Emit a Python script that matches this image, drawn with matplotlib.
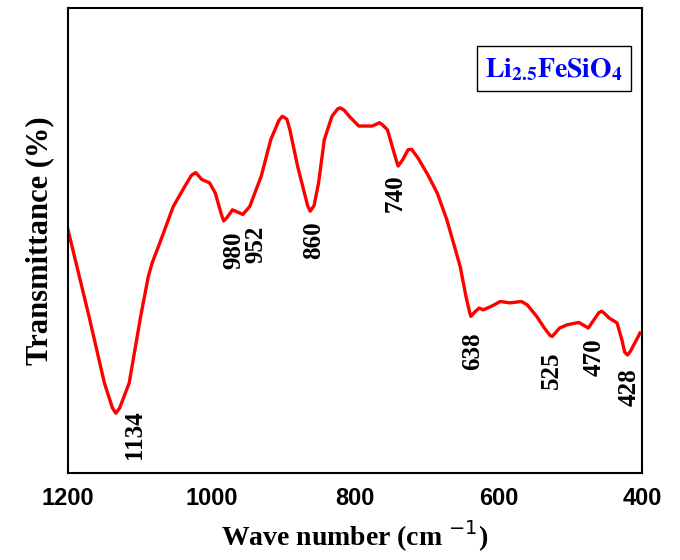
import matplotlib
matplotlib.use('Agg')
import matplotlib.pyplot as plt

# FTIR spectrum of Li2.5FeSiO4
wavenumber = [1200, 1170.7, 1149.3, 1138, 1133.3, 1128, 1114.7, 1098.7, 1088, 1082.7, 1072, 1053.3,
              1037.3, 1028, 1022, 1013.3, 1002.7, 994.7, 986, 983, 978, 970.7, 956.3, 946.7, 930.7,
              917.3, 906, 901.3, 895, 890.7, 880, 866, 862.4, 857, 850.7, 842.7, 832, 824, 820.3, 815, 808,
              794.7, 776, 766, 762.7, 754.7, 746.7, 741, 739.7, 733.3, 726, 721, 712, 698.7,
              685.3, 672, 664, 653.3, 645.3, 640, 638.4, 632, 626.7, 621.3, 610.7,
              597.3, 584, 568, 560, 546.7, 536, 528, 525, 514.7, 504, 488,
              474.7, 466.7, 460, 456, 452, 445.3, 434.7, 428, 424, 420, 416, 402.7]
transmittance = [52.3, 33.7, 19.4, 14.0, 12.9, 14.0, 19.4, 33.7, 42.3, 45.2, 49.5, 57.3,
                 61.6, 64.0, 64.6, 63.1, 62.4, 60.2, 55.5, 54.2, 55.0, 56.6, 55.6, 57.3, 63.8,
                 71.7, 75.8, 76.7, 76.1, 73.8, 66.0, 57.5, 56.3, 57.5, 62.4, 71.7, 76.7, 78.3, 78.5, 78.0, 76.7,
                 74.6, 74.6, 75.3, 75.0, 73.8, 69.5, 66.5, 66.0, 67.4, 69.5, 69.6, 67.7, 64.2,
                 60.2, 54.5, 50.2, 44.4, 38.0, 34.5, 33.7, 34.8, 35.5, 35.1, 35.8,
                 36.9, 36.6, 36.9, 36.2, 33.7, 31.2, 29.6, 29.4, 31.2, 31.9, 32.4,
                 31.2, 33.0, 34.5, 34.8, 34.3, 33.3, 32.3, 28.7, 26.0, 25.4, 26.2, 30.1]

peak_labels = ['1134', '980', '952', '860', '740', '638', '525', '470', '428']
peak_x = [1107, 968.5, 938, 858, 744, 636.3, 526.4, 466.7, 417.6]
peak_y = [8.2, 48.0, 49.1, 50.0, 60.1, 26.2, 22.1, 24.9, 18.6]

fig = plt.figure(figsize=(6.8, 5.6), dpi=100)
ax = fig.add_axes([0.1, 0.155, 0.844, 0.831])

ax.plot(wavenumber, transmittance, color='red', linewidth=2.4)

for lab, px, py in zip(peak_labels, peak_x, peak_y):
    ax.text(px, py, lab, rotation=90, ha='center', va='center',
            fontsize=18, fontweight='bold', family='Liberation Serif')

ax.text(0.847, 0.869, r'$\mathbf{Li_{2.5}FeSiO_4}$', transform=ax.transAxes,
        ha='center', va='center', fontsize=20, color='blue',
        math_fontfamily='stix',
        bbox=dict(boxstyle='square,pad=0.3', facecolor='white', edgecolor='black', linewidth=1))

ax.set_xlim(1200, 400)
ax.set_ylim(0, 100)
ax.set_xticks([1200, 1000, 800, 600, 400])
ax.set_yticks([])
ax.tick_params(axis='x', length=0, pad=10)
for t in ax.get_xticklabels():
    t.set_fontsize(17)
    t.set_fontweight('bold')
    t.set_family('Liberation Sans')

for s in ax.spines.values():
    s.set_linewidth(1.5)

ax.set_xlabel('Wave number (cm $^{-1}$)', fontsize=20, fontweight='bold',
              family='Liberation Serif', labelpad=6)
ax.set_ylabel('Transmittance (%)', fontsize=22, fontweight='bold',
              family='Liberation Serif', labelpad=10)

fig.savefig('out.png', dpi=100)
